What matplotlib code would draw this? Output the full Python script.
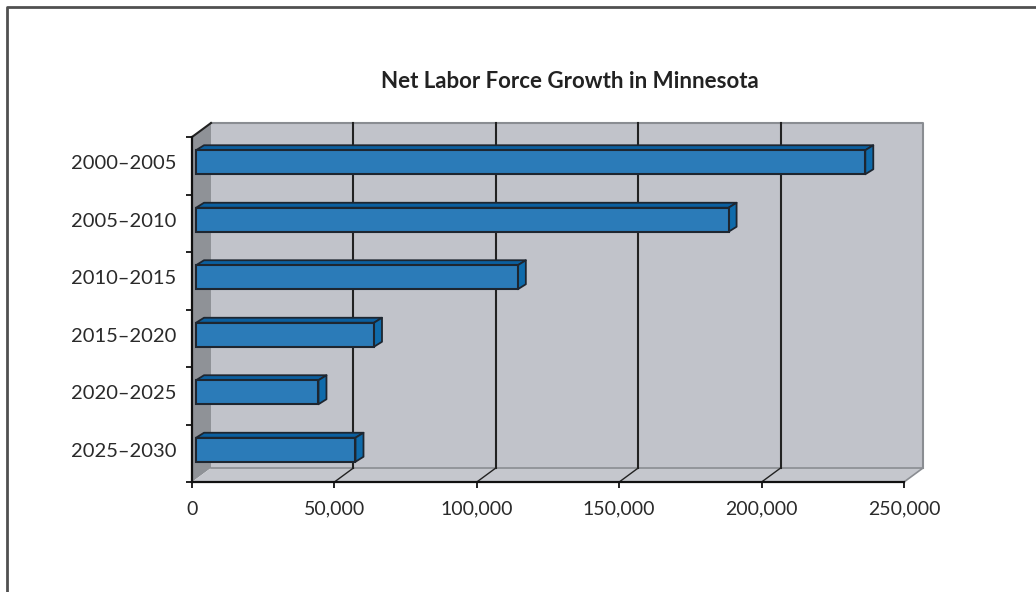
import matplotlib
matplotlib.use('Agg')
import matplotlib.pyplot as plt
from matplotlib.patches import Polygon
from matplotlib.lines import Line2D

# ---- data ----
categories = ['2000–2005', '2005–2010', '2010–2015', '2015–2020', '2020–2025', '2025–2030']
values = [235000, 187000, 113000, 62500, 43000, 56000]
xticks = [0, 50000, 100000, 150000, 200000, 250000]
xticklabels = ['0', '50,000', '100,000', '150,000', '200,000', '250,000']
title = 'Net Labor Force Growth in Minnesota'

FONT = ['Lato', 'DejaVu Sans']
W, H, DPI = 1036, 592, 100
fig = plt.figure(figsize=(W / DPI, H / DPI), dpi=DPI)
fig.patch.set_facecolor('white')

# front plane of plot (pixels)
L, R, T, B = 192, 904, 137, 482
ax = fig.add_axes([L / W, 1 - B / H, (R - L) / W, (B - T) / H])
n = len(categories)
ax.set_xlim(xticks[0], xticks[-1])
ax.set_ylim(0, n)
ax.patch.set_visible(False)

# pixel -> data unit factors
ux = (xticks[-1] - xticks[0]) / (R - L)
uy = n / (B - T)

# depth of the 3D box (pixels)
DX, DY = 19, 14
dxu, dyu = DX * ux, DY * uy
xmax = xticks[-1]

wall_c = '#c1c3ca'
side_c = '#8f9297'
floor_c = '#c5c7cd'
edge_c = '#8a8d92'

# back wall
ax.add_patch(Polygon([(dxu, dyu), (xmax + dxu, dyu), (xmax + dxu, n + dyu), (dxu, n + dyu)],
                     closed=True, facecolor=wall_c, edgecolor='none', zorder=0.5, clip_on=False))
# left side wall
ax.add_patch(Polygon([(0, 0), (0, n), (dxu, n + dyu), (dxu, dyu)],
                     closed=True, facecolor=side_c, edgecolor='none', zorder=0.5, clip_on=False))
# floor
ax.add_patch(Polygon([(0, 0), (xmax, 0), (xmax + dxu, dyu), (dxu, dyu)],
                     closed=True, facecolor=floor_c, edgecolor='none', zorder=0.5, clip_on=False))
# wall edges
ax.add_line(Line2D([dxu, xmax + dxu, xmax + dxu], [n + dyu, n + dyu, dyu], color=edge_c, lw=1.5,
                   zorder=0.6, clip_on=False))
ax.add_line(Line2D([dxu, xmax + dxu, xmax], [dyu, dyu, 0], color=edge_c, lw=1.2,
                   zorder=0.6, clip_on=False))
ax.add_line(Line2D([0, dxu], [n, n + dyu], color='#222222', lw=1.5, zorder=0.7, clip_on=False))

# gridlines on back wall and floor
for v in xticks[1:-1]:
    ax.add_line(Line2D([v + dxu, v + dxu], [dyu, n + dyu], color='#222222', lw=1.5,
                       zorder=0.7, clip_on=False))
    ax.add_line(Line2D([v, v + dxu], [0, dyu], color='#222222', lw=1.0,
                       zorder=0.7, clip_on=False))

# bars
FX, FY = 4, 3.5      # front-face offset (px)
BX, BY = 8, 5        # bar depth (px)
BH = 24              # bar height (px)
fxu, fyu = FX * ux, FY * uy
bxu, byu = BX * ux, BY * uy
hb = BH * uy
centers = [n - k - 0.5 + fyu for k in range(n)]
front_c = '#2b7bb8'
top_c = '#0b5f9f'
rside_c = '#0f6bab'
bar_edge = '#1e2630'
ax.barh(centers, values, left=fxu, height=hb, color=front_c, edgecolor=bar_edge,
        linewidth=1.5, zorder=3, clip_on=False)
for c, v in zip(centers, values):
    yt, yb = c + hb / 2, c - hb / 2
    x0, x1 = fxu, fxu + v
    ax.add_patch(Polygon([(x0, yt), (x0 + bxu, yt + byu), (x1 + bxu, yt + byu), (x1, yt)],
                         closed=True, facecolor=top_c, edgecolor=bar_edge, lw=1.3,
                         joinstyle='round', zorder=2.9, clip_on=False))
    ax.add_patch(Polygon([(x1, yt), (x1 + bxu, yt + byu), (x1 + bxu, yb + byu), (x1, yb)],
                         closed=True, facecolor=rside_c, edgecolor=bar_edge, lw=1.3,
                         joinstyle='round', zorder=2.9, clip_on=False))

# axes / spines
for s in ['top', 'right']:
    ax.spines[s].set_visible(False)
for s in ['left', 'bottom']:
    ax.spines[s].set_color('#111111')
    ax.spines[s].set_linewidth(1.6)
    ax.spines[s].set_zorder(4)

ax.set_xticks(xticks)
ax.set_xticklabels(xticklabels, fontfamily=FONT, fontsize=14, color='#2a2a2a')
ax.tick_params(axis='x', direction='out', length=4.5, width=1.3, color='#111111', pad=9)

ax.set_yticks(range(n + 1))
ax.set_yticklabels([])
ax.tick_params(axis='y', which='major', direction='out', length=4.5, width=1.3, color='#111111')
ax.set_yticks([n - k - 0.5 + fyu for k in range(n)], minor=True)
ax.set_yticklabels(categories, minor=True, fontfamily=FONT, fontsize=14.5, color='#2a2a2a')
ax.tick_params(axis='y', which='minor', length=0, pad=11)

# title
fig.text(570 / W, 1 - 82 / H, title, ha='center', va='center', fontfamily=FONT,
         fontsize=16, fontweight='bold', color='#222222')

# outer frame (top and left only)
fig.add_artist(Line2D([7 / W, 7 / W, 1.0], [0.0, 1 - 7 / H, 1 - 7 / H],
                      transform=fig.transFigure, color='#505050', lw=2.0))

fig.savefig('out.png', dpi=DPI)
